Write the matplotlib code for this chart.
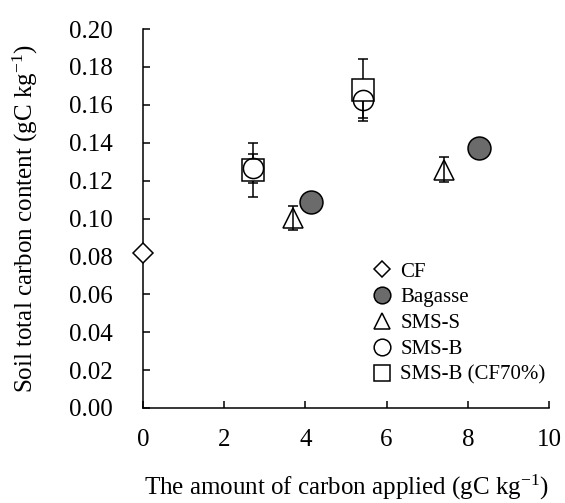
import matplotlib
matplotlib.use("Agg")
import matplotlib.pyplot as plt
from matplotlib.lines import Line2D

plt.rcParams['font.family'] = ['Liberation Serif', 'DejaVu Serif']
plt.rcParams['mathtext.fontset'] = 'custom'
plt.rcParams['mathtext.rm'] = 'Liberation Serif'
plt.rcParams['mathtext.it'] = 'Liberation Serif:italic'
plt.rcParams['mathtext.default'] = 'regular'

# Data
cf_x = [0.0]
cf_y = [0.082]
cf_err = [0.002]

bag_x = [4.14, 8.28]
bag_y = [0.1085, 0.137]

smss_x = [3.70, 7.41]
smss_y = [0.1003, 0.1258]
smss_err = [0.0062, 0.0065]

smsb_x = [2.71, 5.43]
smsb_y = [0.1266, 0.1625]
smsb_err = [0.0077, 0.0095]

smsb70_x = [2.71, 5.43]
smsb70_y = [0.1257, 0.1677]
smsb70_err = [0.0144, 0.0163]

labels = ['CF', 'Bagasse', 'SMS-S', 'SMS-B', 'SMS-B (CF70%)']
x_ticks = [0, 2, 4, 6, 8, 10]
y_ticks = [0.00, 0.02, 0.04, 0.06, 0.08, 0.10, 0.12, 0.14, 0.16, 0.18, 0.20]

fig = plt.figure(figsize=(5.65, 5.03), dpi=100)
ax = fig.add_axes([143/565, 1-408/503, 406/565, 379/503])

lw = 1.1
bag_color = '#6b6b6b'
ekw = dict(ecolor='black', elinewidth=lw, capsize=3.8, capthick=lw, linestyle='none', zorder=4)

ax.errorbar(smsb70_x, smsb70_y, yerr=smsb70_err, fmt='s', ms=15.5, mfc='white',
            mec='black', mew=lw, **ekw)
ax.errorbar(smsb_x, smsb_y, yerr=smsb_err, fmt='o', ms=14.5, mfc='none',
            mec='black', mew=lw, **ekw)
ax.errorbar(smss_x, smss_y, yerr=smss_err, fmt='^', ms=15, mfc='none',
            mec='black', mew=lw, **ekw)
ax.plot(bag_x, bag_y, 'o', ms=16.5, mfc=bag_color, mec='black', mew=lw,
        linestyle='none', zorder=5)
ax.errorbar(cf_x, cf_y, yerr=cf_err, fmt='D', ms=10, mfc='white',
            mec='black', mew=lw, clip_on=False, **ekw)

ax.set_xlim(0, 10)
ax.set_ylim(0, 0.20)
ax.set_xticks(x_ticks)
ax.set_yticks(y_ticks)
ax.set_xticklabels([str(v) for v in x_ticks])
ax.set_yticklabels([f'{v:.2f}' for v in y_ticks])
ax.tick_params(direction='in', length=5, width=lw, labelsize=18)
ax.tick_params(axis='y', pad=21.5)
ax.tick_params(axis='x', pad=15)
for s in ['top', 'right']:
    ax.spines[s].set_visible(False)
for s in ['left', 'bottom']:
    ax.spines[s].set_linewidth(lw)

ax.set_xlabel('The amount of carbon applied (gC kg$^{-1}$)', fontsize=18)
ax.set_ylabel('Soil total carbon content (gC kg$^{-1}$)', fontsize=18)
ax.xaxis.label.set_va('center')
ax.yaxis.label.set_va('center')
ax.xaxis.set_label_coords(0.5, (408-487)/379)
ax.yaxis.set_label_coords((25-143)/406, 0.5)

mk = dict(color='none', linestyle='none', mec='black', mew=lw)
handles = [
    Line2D([], [], marker='D', ms=8, mfc='white', **mk),
    Line2D([], [], marker='o', ms=12, mfc=bag_color, **mk),
    Line2D([], [], marker='^', ms=12, mfc='white', **mk),
    Line2D([], [], marker='o', ms=12, mfc='white', **mk),
    Line2D([], [], marker='s', ms=11.5, mfc='white', **mk),
]
leg = fig.legend(handles=handles, labels=labels,
                 loc='upper left', bbox_to_anchor=(372/565, 1-262/503),
                 frameon=False, fontsize=15, handlelength=1.0,
                 handletextpad=0.35, labelspacing=0.3, borderpad=0, borderaxespad=0)

fig.savefig('out.png', dpi=100)
